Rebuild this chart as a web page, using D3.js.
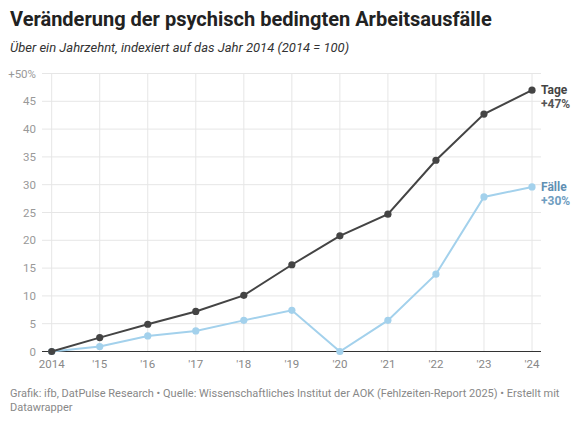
<!DOCTYPE html>
<html><head><meta charset="utf-8">
<script src="https://cdn.jsdelivr.net/npm/d3@7"></script>
<style>
body{margin:0;background:#fff;font-family:Roboto,sans-serif;}
</style></head><body>
<svg id="c" width="576" height="422"></svg>
<script>
const years = [2014,2015,2016,2017,2018,2019,2020,2021,2022,2023,2024];
const tage  = [0,2.5,4.9,7.2,10.1,15.6,20.8,24.7,34.4,42.7,47];
const faelle = [0,0.9,2.8,3.7,5.6,7.4,0,5.6,13.9,27.8,29.6];
const yTicks = [0,5,10,15,20,25,30,35,40,45,50];

const svg = d3.select('#c');
svg.append('text').attr('x',10).attr('y',26).attr('font-size',20).attr('font-weight',700)
  .attr('fill','#222').text('Veränderung der psychisch bedingten Arbeitsausfälle');
svg.append('text').attr('x',10).attr('y',52).attr('font-size',13).attr('font-style','italic')
  .attr('fill','#333').text('Über ein Jahrzehnt, indexiert auf das Jahr 2014 (2014 = 100)');

const x = d3.scaleLinear().domain([2014,2024]).range([51.7,532]);
const y = d3.scaleLinear().domain([0,50]).range([351.5,73.5]);

const g = svg.append('g');
g.selectAll('line.h').data(yTicks.slice(1)).join('line')
  .attr('x1',42).attr('x2',541).attr('y1',d=>y(d)).attr('y2',d=>y(d))
  .attr('stroke','#e6e6e6');
g.selectAll('line.v').data(years).join('line')
  .attr('x1',d=>x(d)).attr('x2',d=>x(d)).attr('y1',y(50)).attr('y2',y(0))
  .attr('stroke','#e6e6e6');
g.append('line').attr('x1',42).attr('x2',541).attr('y1',y(0)).attr('y2',y(0))
  .attr('stroke','#333').attr('stroke-width',1);
g.selectAll('text.yt').data(yTicks).join('text')
  .attr('x',36).attr('y',d=>y(d)+4).attr('text-anchor','end').attr('font-size',11.5)
  .attr('fill','#999').text(d=>d===50?'+50%':d);
g.selectAll('text.xt').data(years).join('text')
  .attr('x',d=>x(d)).attr('y',368).attr('text-anchor','middle').attr('font-size',11.5)
  .attr('fill','#888').text(d=>d===2014?'2014':"'"+String(d).slice(2));

const line = d3.line().x((d,i)=>x(years[i])).y(d=>y(d));
function series(vals,col){
  g.append('path').datum(vals).attr('d',line).attr('fill','none').attr('stroke',col).attr('stroke-width',2);
  g.selectAll(null).data(vals).join('circle').attr('cx',(d,i)=>x(years[i])).attr('cy',d=>y(d))
    .attr('r',3.6).attr('fill',col);
}
series(faelle,'#a3d1ec');
series(tage,'#444');

function label(v,name,pct,col,col2){
  svg.append('text').attr('x',541).attr('y',y(v)+4).attr('font-size',12).attr('font-weight',700)
    .attr('fill',col).text(name);
  svg.append('text').attr('x',541).attr('y',y(v)+18).attr('font-size',12).attr('font-weight',700)
    .attr('fill',col2).text(pct);
}
label(47,'Tage','+47%','#444','#555');
label(29.6,'Fälle','+30%','#5f8fb3','#6f9dc0');

svg.append('text').attr('x',10).attr('y',397).attr('font-size',11).attr('fill','#888')
  .text('Grafik: ifb, DatPulse Research • Quelle: Wissenschaftliches Institut der AOK (Fehlzeiten-Report 2025) • Erstellt mit');
svg.append('text').attr('x',10).attr('y',411).attr('font-size',11).attr('fill','#888').text('Datawrapper');
</script></body></html>
